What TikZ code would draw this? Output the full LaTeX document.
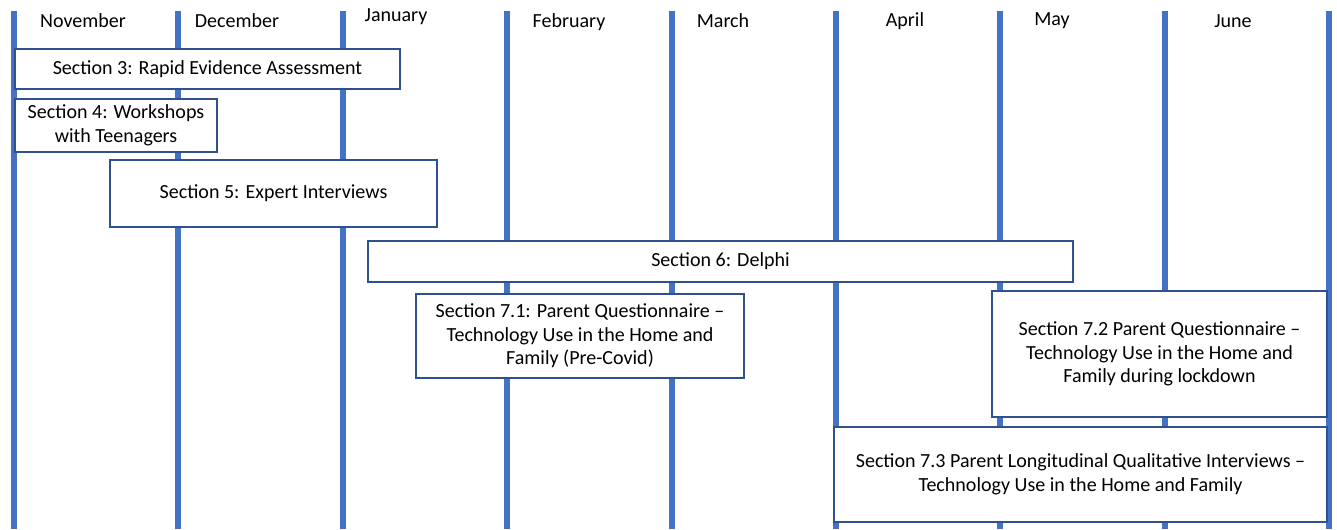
\documentclass[tikz,border=0pt]{standalone}
\usepackage{fontspec}
\setmainfont{Carlito}
\definecolor{monthblue}{RGB}{68,114,196}
\definecolor{boxblue}{RGB}{47,82,143}
\tikzset{
    month line/.style={monthblue,line width=3.4pt},
    month/.style={font=\fontsize{11.4pt}{13.4pt}\selectfont,inner sep=0pt},
    task/.style={draw=boxblue,line width=0.8pt,fill=white,rectangle,align=center,inner sep=0pt,
        font=\fontsize{11.4pt}{13.4pt}\selectfont}
}
\begin{document}
\begin{tikzpicture}[x=0.02cm,y=-0.02cm]
        \useasboundingbox (0,0) rectangle (1337,529);
        %% Month lines
        \foreach \mx in {14,178,343,507,672,836,1000,1165,1329}
            \draw[month line] (\mx,11) -- (\mx,529);
        %% Months
        \node[month] (nov) at (83,21) {November};
        \node[month] (dec) at (237,21) {December};
        \node[month] (jan) at (396,17) {January};
        \node[month] (feb) at (569,22) {February};
        \node[month] (mar) at (723,21) {March};
        \node[month] (apr) at (905,21) {April};
        \node[month] (may) at (1052,21) {May};
        \node[month] (jun) at (1233,21) {June};
        %% Sections
        \node[task,minimum width=7.70cm,minimum height=0.80cm] (sec3) at (207.5,69) {Section 3: Rapid Evidence Assessment};
        \node[task,minimum width=4.04cm,minimum height=1.06cm] (sec4) at (116,125.5) {Section 4: Workshops\\with Teenagers};
        \node[task,minimum width=6.54cm,minimum height=1.34cm] (sec5) at (273.5,193.5) {Section 5: Expert Interviews};
        \node[task,minimum width=14.10cm,minimum height=0.82cm] (sec6) at (720.5,261.5) {Section 6: Delphi};
        \node[task,minimum width=6.56cm,minimum height=1.68cm] (sec71) at (580,336) {Section 7.1: Parent Questionnaire --\\Technology Use in the Home and\\Family (Pre-Covid)};
        \node[task,minimum width=6.70cm,minimum height=2.52cm] (sec72) at (1159.5,354) {Section 7.2 Parent Questionnaire --\\Technology Use in the Home and\\Family during lockdown};
        \node[task,minimum width=9.86cm,minimum height=1.90cm] (sec73) at (1080.5,474.5) {Section 7.3 Parent Longitudinal Qualitative Interviews --\\Technology Use in the Home and Family};
    \end{tikzpicture}
\end{document}
